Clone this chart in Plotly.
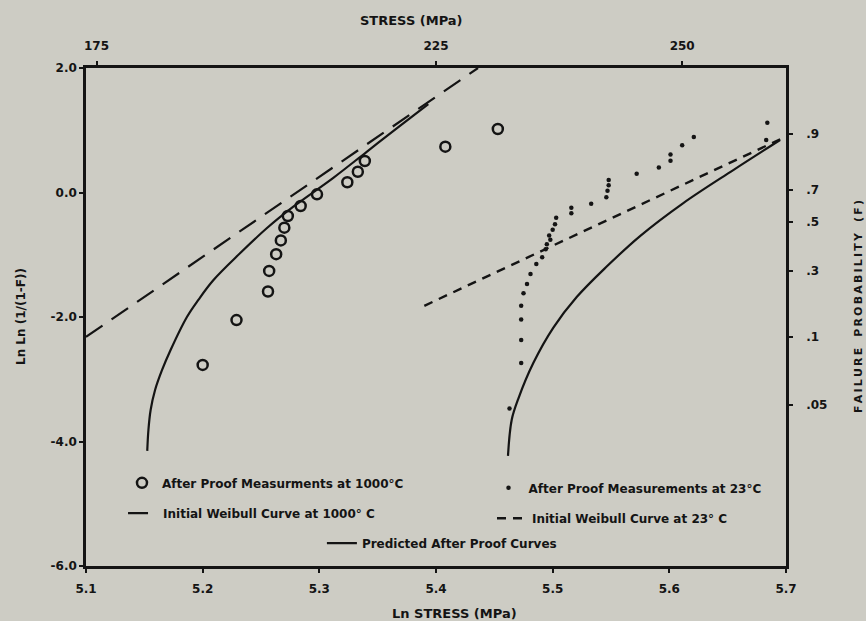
import plotly.graph_objects as go

# ---------------- data ----------------
# After proof measurements at 1000 C (open circles)
circ_x = [5.200, 5.229, 5.256, 5.257, 5.263, 5.267, 5.270, 5.273, 5.284, 5.298,
          5.324, 5.333, 5.339, 5.408, 5.453]
circ_y = [-2.77, -2.05, -1.59, -1.26, -0.99, -0.77, -0.565, -0.378, -0.217, -0.029,
          0.164, 0.334, 0.506, 0.736, 1.02]

# After proof measurements at 23 C (small dots)
dot_x = [5.463, 5.473, 5.473, 5.473, 5.473, 5.475, 5.478, 5.481, 5.486, 5.491,
         5.494, 5.495, 5.498, 5.497, 5.500, 5.502, 5.503, 5.516, 5.516, 5.533,
         5.546, 5.547, 5.548, 5.548, 5.572, 5.591, 5.601, 5.601, 5.611, 5.621,
         5.683, 5.684]
dot_y = [-3.47, -2.74, -2.37, -2.04, -1.82, -1.62, -1.47, -1.31, -1.15, -1.04,
         -0.91, -0.83, -0.76, -0.69, -0.60, -0.51, -0.405, -0.335, -0.245, -0.18,
         -0.078, 0.03, 0.115, 0.20, 0.30, 0.40, 0.51, 0.61, 0.76, 0.89,
         0.843, 1.12]

# Initial Weibull curves (straight lines)
weib1000_x = [5.100, 5.436]
weib1000_y = [-2.32, 2.00]
weib23_x = [5.390, 5.695]
weib23_y = [-1.82, 0.855]

# Predicted after-proof curves
pred1000_x = [5.1525, 5.1535, 5.1554, 5.1592, 5.1652, 5.1725, 5.1865, 5.1965,
              5.2091, 5.2320, 5.2549, 5.2777, 5.3120, 5.3406, 5.3691, 5.3934]
pred1000_y = [-4.15, -3.815, -3.494, -3.173, -2.851, -2.53, -2.00, -1.72,
              -1.41, -0.977, -0.575, -0.228, 0.236, 0.654, 1.07, 1.42]
pred23_x = [5.4617, 5.4649, 5.4706, 5.4834, 5.5006, 5.5206, 5.5463, 5.5749,
            5.6120, 5.6548, 5.6949]
pred23_y = [-4.23, -3.65, -3.31, -2.74, -2.17, -1.68, -1.19, -0.70,
            -0.17, 0.36, 0.843]

# Axes ticks
bottom_ticks = [5.1, 5.2, 5.3, 5.4, 5.5, 5.6, 5.7]
bottom_labels = ["5.1", "5.2", "5.3", "5.4", "5.5", "5.6", "5.7"]
left_ticks = [-6, -4, -2, 0, 2]
left_labels = ["-6.0", "-4.0", "-2.0", "0.0", "2.0"]
top_tick_pos = [5.109, 5.400, 5.611]
top_labels = ["175", "225", "250"]
right_tick_pos = [0.94, 0.04, -0.474, -1.26, -2.321, -3.414]
right_labels = [".9", ".7", ".5", ".3", ".1", ".05"]

# ---------------- styling ----------------
BG = "#cdccc4"
INK = "#141414"
FONT = "DejaVu Sans"

fig = go.Figure()

fig.add_trace(go.Scatter(
    x=circ_x, y=circ_y, mode="markers", name="After Proof Measurments at 1000°C",
    marker=dict(symbol="circle-open", size=10, color=INK, line=dict(width=2.5, color=INK)),
    legend="legend"))
fig.add_trace(go.Scatter(
    x=dot_x, y=dot_y, mode="markers", name="After Proof Measurements at 23°C",
    marker=dict(symbol="circle", size=4.5, color=INK),
    legend="legend2"))
fig.add_trace(go.Scatter(
    x=weib1000_x, y=weib1000_y, mode="lines", name="Initial Weibull Curve at 1000° C",
    line=dict(color=INK, width=2.2, dash="20px,11px"),
    legend="legend3"))
fig.add_trace(go.Scatter(
    x=weib23_x, y=weib23_y, mode="lines", name="Initial Weibull Curve at 23° C",
    line=dict(color=INK, width=2.4, dash="9px,7px"),
    legend="legend4"))
fig.add_trace(go.Scatter(
    x=pred1000_x + [None] + pred23_x, y=pred1000_y + [None] + pred23_y,
    mode="lines", name="Predicted After Proof Curves", connectgaps=False,
    line=dict(color=INK, width=2.2, shape="spline", smoothing=1.0),
    legend="legend5"))

# invisible trace to activate the secondary (top/right) axes
fig.add_trace(go.Scatter(
    x=circ_x[:1], y=circ_y[:1], xaxis="x2", yaxis="y2", mode="markers",
    marker=dict(opacity=0), showlegend=False, hoverinfo="skip"))

tickfont = dict(family=FONT, size=12, color=INK, weight="bold")
axis_common = dict(showgrid=False, zeroline=False, showline=True, linecolor=INK,
                   linewidth=2.5, ticks="outside", ticklen=4, tickwidth=1.5,
                   tickcolor=INK, tickfont=tickfont)

fig.update_layout(
    width=866, height=621,
    margin=dict(l=86, r=80, t=68, b=55),
    paper_bgcolor=BG, plot_bgcolor=BG,
    font=dict(family=FONT, color=INK),
    xaxis=dict(range=[5.1, 5.7], tickmode="array", tickvals=bottom_ticks,
               ticktext=bottom_labels, ticklabelstandoff=6, **axis_common),
    yaxis=dict(range=[-6, 2], tickmode="array", tickvals=left_ticks,
               ticktext=left_labels, **axis_common),
    xaxis2=dict(range=[5.1, 5.7], overlaying="x", side="top", tickmode="array",
                tickvals=top_tick_pos, ticktext=top_labels, ticklabelstandoff=6,
                **axis_common),
    yaxis2=dict(range=[-6, 2], overlaying="y", side="right", tickmode="array",
                tickvals=right_tick_pos, ticktext=right_labels, ticklabelstandoff=11,
                **axis_common),
    showlegend=True,
)

legend_font = dict(family=FONT, size=12, color=INK, weight="bold")
leg = dict(bgcolor="rgba(0,0,0,0)", borderwidth=0, font=legend_font,
           xanchor="left", yanchor="middle", orientation="h", itemwidth=30)
fig.update_layout(
    legend=dict(x=0.0514, y=0.167, **leg),
    legend2=dict(x=0.575, y=0.157, **leg),
    legend3=dict(x=0.0529, y=0.106, **leg),
    legend4=dict(x=0.58, y=0.096, **leg),
    legend5=dict(x=0.337, y=0.046, **leg),
)

title_font = dict(family=FONT, size=13, color=INK, weight="bold")
fig.add_annotation(text="STRESS (MPa)", xref="paper", yref="paper", x=0.465, y=1.0,
                   yshift=48, showarrow=False, font=title_font, xanchor="center",
                   yanchor="middle")
fig.add_annotation(text="Ln STRESS (MPa)", xref="paper", yref="paper", x=0.526, y=0.0,
                   yshift=-47, showarrow=False, font=title_font, xanchor="center",
                   yanchor="middle")
fig.add_annotation(text="Ln Ln (1/(1-F))", xref="paper", yref="paper", x=0.0, y=0.5,
                   xshift=-65, showarrow=False, font=dict(family=FONT, size=12, color=INK, weight="bold"),
                   textangle=-90, xanchor="center", yanchor="middle")
fig.add_annotation(text="\u2009".join("FAILURE PROBABILITY (F)").replace("\u2009 \u2009", "\u2003"),
                   xref="paper", yref="paper", x=1.0, y=0.52,
                   xshift=72, showarrow=False, font=dict(family=FONT, size=11, color=INK, weight="bold"),
                   textangle=-90, xanchor="center", yanchor="middle")

fig.write_html("out.html")
